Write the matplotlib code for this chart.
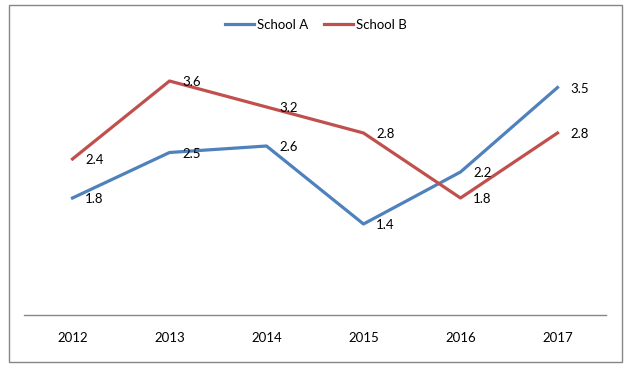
import matplotlib
matplotlib.use("Agg")
import matplotlib.pyplot as plt
from matplotlib.patches import Rectangle

years = ["2012", "2013", "2014", "2015", "2016", "2017"]
school_a = [1.8, 2.5, 2.6, 1.4, 2.2, 3.5]
school_b = [2.4, 3.6, 3.2, 2.8, 1.8, 2.8]

plt.rcParams['font.family'] = ['Lato', 'DejaVu Sans']

W, H = 629, 372
fig = plt.figure(figsize=(W / 100, H / 100), dpi=100)
fig.patch.set_facecolor('white')

# outer border
fig.patches.append(Rectangle((9 / W, (H - 362) / H), (622 - 9) / W, (362 - 5) / H,
                             transform=fig.transFigure, fill=False,
                             edgecolor='#868686', linewidth=1.0))

ax = fig.add_axes([24 / W, (H - 315) / H, (606 - 24) / W, 260 / H])
x = list(range(len(years)))
blue = '#4F81BD'
red = '#C0504D'
ax.plot(x, school_a, color=blue, linewidth=2.3, label='School A', solid_joinstyle='round')
ax.plot(x, school_b, color=red, linewidth=2.3, label='School B', solid_joinstyle='round')

for xi, v in zip(x, school_a):
    ax.annotate(f"{v}", (xi, v), xytext=(9, -1), textcoords='offset points',
                ha='left', va='center', fontsize=9.5, color='black')
for xi, v in zip(x, school_b):
    ax.annotate(f"{v}", (xi, v), xytext=(9, -1), textcoords='offset points',
                ha='left', va='center', fontsize=9.5, color='black')

ax.set_xlim(-0.5, len(years) - 0.5)
ax.set_ylim(0, 4)
ax.set_xticks(x)
ax.set_xticklabels(years, fontsize=9.5)
ax.tick_params(axis='x', length=0, pad=12)
ax.set_yticks([])
for s in ['top', 'right', 'left']:
    ax.spines[s].set_visible(False)
ax.spines['bottom'].set_color('#868686')
ax.spines['bottom'].set_linewidth(1.0)
ax.patch.set_alpha(0)

fig.legend(loc='center', bbox_to_anchor=(316 / W, (H - 25) / H), ncol=2, frameon=False,
           fontsize=9.5, handlelength=2.2, handletextpad=0.2, columnspacing=1.2)

fig.savefig('out.png', dpi=100)
